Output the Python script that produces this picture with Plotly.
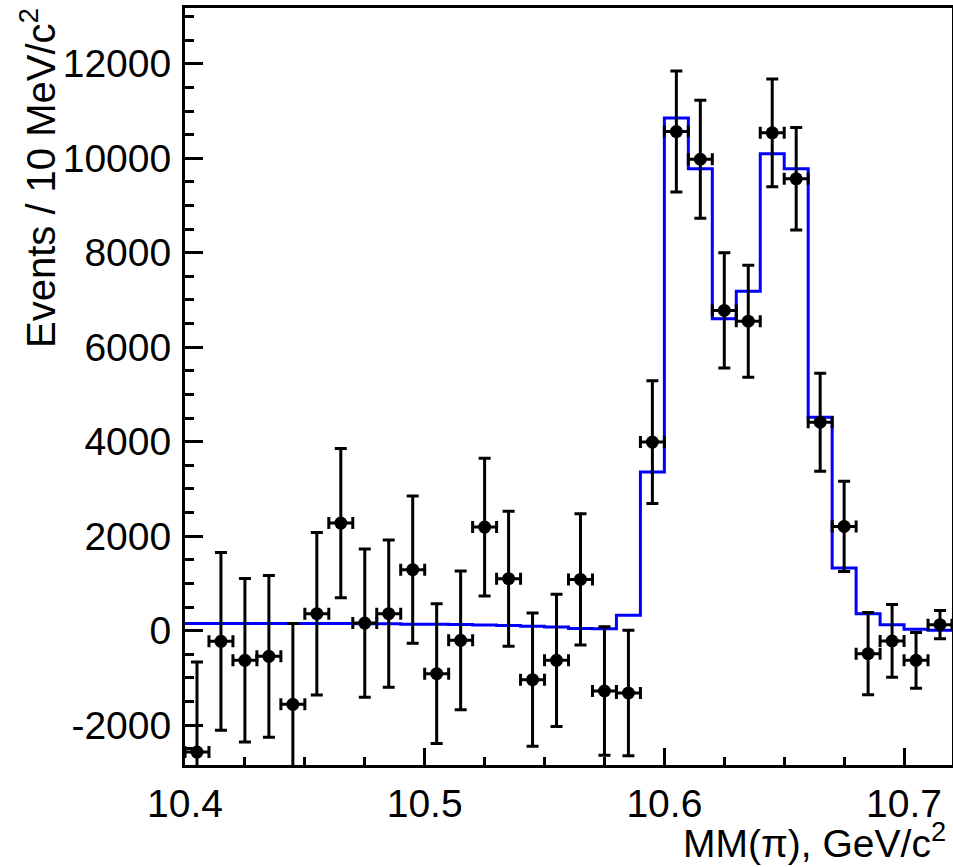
import plotly.graph_objects as go

# Bin edges (GeV/c^2): 10.40 .. 10.72, width 0.01
bin_lo = 10.40
bin_width = 0.01
n_bins = 32

# Data points (events / 10 MeV/c^2) and their errors
data_y = [-2570, -226, -628, -544, -1560, 360, 2277, 161, 360, 1291,
          -910, -205, 2192, 1100, -1037, -628, 1085, -1278, -1320, 3991,
          10566, 9979, 6778, 6551, 10538, 9564, 4414, 2207, -487, -219,
          -628, 127]
data_err = [1905, 1880, 1730, 1710, 1710, 1720, 1580, 1570, 1560, 1560,
            1480, 1470, 1460, 1430, 1410, 1400, 1390, 1360, 1330, 1300,
            1280, 1250, 1220, 1185, 1140, 1085, 1037, 955, 870, 770,
            590, 300]

# Fitted histogram (blue)
fit_y = [150, 150, 150, 150, 150, 150, 150, 148, 145, 138,
         133, 128, 120, 110, 95, 78, 45, 40, 324, 3356,
         10855, 9776, 6602, 7186, 10094, 9776, 4520, 1325, 360, 127,
         28, 10]

y_tick_vals = [-2000, 0, 2000, 4000, 6000, 8000, 10000, 12000]
y_tick_text = ["-2000", "0", "2000", "4000", "6000", "8000", "10000", "12000"]
x_tick_vals = [10.4, 10.5, 10.6, 10.7]
x_tick_text = ["10.4", "10.5", "10.6", "10.7"]

edges = [round(bin_lo + bin_width * i, 4) for i in range(n_bins + 1)]
centers = [round(bin_lo + bin_width * (i + 0.5), 4) for i in range(n_bins)]

FONT = "Liberation Sans, Arial, Helvetica, sans-serif"

fig = go.Figure()

fig.add_trace(go.Scatter(
    x=edges, y=fit_y + [fit_y[-1]],
    mode="lines", line=dict(color="#0000ff", width=3, shape="hv"),
    showlegend=False, hoverinfo="skip",
))

fig.add_trace(go.Scatter(
    x=centers, y=data_y, mode="markers",
    marker=dict(color="black", size=13, symbol="circle"),
    error_y=dict(type="data", array=data_err, visible=True,
                 color="black", thickness=3, width=6),
    error_x=dict(type="constant", value=bin_width / 2, visible=True,
                 color="black", thickness=3, width=6),
    showlegend=False,
))

axis_common = dict(
    showline=True, linecolor="black", linewidth=3, mirror=True,
    ticks="inside", tickcolor="black", tickwidth=3,
    showgrid=False, zeroline=False, automargin=False,
    tickfont=dict(family=FONT, size=39, color="black"),
)

fig.update_xaxes(
    range=[10.4, 10.72],
    tickvals=x_tick_vals, ticktext=x_tick_text,
    ticklen=17,
    minor=dict(dtick=0.025, tick0=10.4, ticks="inside", ticklen=8,
               tickwidth=3, tickcolor="black", showgrid=False),
    ticklabelstandoff=2,
    **axis_common,
)
fig.update_yaxes(
    range=[-2844, 13181],
    tickvals=y_tick_vals, ticktext=y_tick_text,
    ticklen=18,
    minor=dict(dtick=500, tick0=0, ticks="inside", ticklen=9,
               tickwidth=3, tickcolor="black", showgrid=False),
    ticklabelstandoff=3,
    **axis_common,
)

W, H = 953, 867
ml, mr, mt, mb = 185, 1, 8, 102
pw = W - ml - mr
ph = H - mt - mb

def px_to_paper_x(px):
    return (px - ml) / pw

def px_to_paper_y(py):
    return (H - mb - py) / ph

fig.update_layout(
    width=W, height=H,
    margin=dict(l=ml, r=mr, t=mt, b=mb),
    paper_bgcolor="white", plot_bgcolor="white",
    font=dict(family=FONT, color="black"),
    annotations=[
        dict(text="MM(π), GeV/c<sup>2</sup>", xref="paper", yref="paper",
             x=px_to_paper_x(948), y=px_to_paper_y(867),
             xanchor="right", yanchor="bottom", showarrow=False,
             font=dict(family=FONT, size=39, color="black")),
        dict(text="Events / 10 MeV/c<sup>2</sup>", xref="paper", yref="paper",
             x=px_to_paper_x(38), y=px_to_paper_y(6),
             xanchor="center", yanchor="top", textangle=-90, showarrow=False,
             font=dict(family=FONT, size=40, color="black")),
    ],
)

fig.write_html("out.html",
               config={"displayModeBar": False},
               post_script="document.body.style.margin='0px';"
                           "document.body.style.overflow='hidden';")
